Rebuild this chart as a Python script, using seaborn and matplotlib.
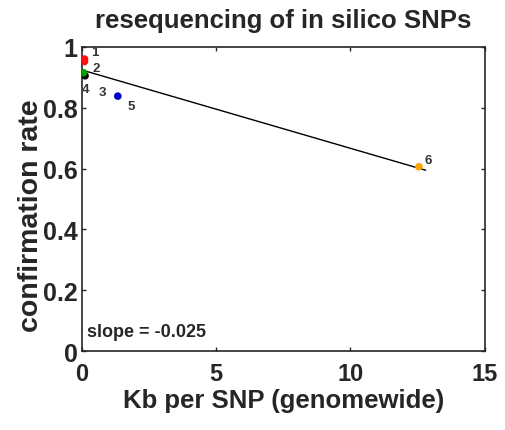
import numpy as np
import pandas as pd
import matplotlib
matplotlib.use("Agg")
import matplotlib.pyplot as plt
import seaborn as sns

# data
labels = ["1", "2", "3", "4", "5", "6"]
kb_per_snp = [0.10, 0.10, 0.12, 0.06, 1.34, 12.55]
conf_rate = [0.960, 0.952, 0.905, 0.915, 0.838, 0.606]
colors = ["#ff1010", "#ff1010", "#000000", "#00a000", "#0000c8", "#ffa500"]
line_x = [0.05, 12.8]
slope_text = "slope = -0.025"

df = pd.DataFrame({"x": kb_per_snp, "y": conf_rate, "lab": labels})

sns.set_style("ticks")
plt.rcParams["font.family"] = ["Liberation Sans", "DejaVu Sans"]
plt.rcParams["font.weight"] = "bold"

fig = plt.figure(figsize=(5.05, 4.31), dpi=100)
ax = fig.add_axes([0.162, 0.183, 0.798, 0.706])

# least squares fit line
slope, icpt = np.polyfit(kb_per_snp, conf_rate, 1)
fx = np.array(line_x)
sns.lineplot(x=fx, y=icpt + slope * fx, ax=ax, color="black", lw=1.0)

sns.scatterplot(data=df, x="x", y="y", hue="lab", palette=colors,
                legend=False, s=30, edgecolor="none", ax=ax, zorder=3)

# point labels (offsets in points)
offs = {"1": (5, 3), "2": (6, -7), "3": (10, -14), "4": (-1, -14), "5": (7, -9), "6": (4, 3)}
for lab, x, y in zip(labels, kb_per_snp, conf_rate):
    ax.annotate(lab, (x, y), xytext=offs[lab], textcoords="offset points",
                fontsize=9.5, color="#333333", fontweight="bold")

ax.text(0.012, 0.05, slope_text, transform=ax.transAxes,
        fontsize=13, fontweight="bold")

ax.set_xlim(0, 15)
ax.set_ylim(0, 1)
ax.set_xticks([0, 5, 10, 15])
ax.set_xticklabels(["0", "5", "10", "15"])
ax.set_yticks([0, 0.2, 0.4, 0.6, 0.8, 1])
ax.set_yticklabels(["0", "0.2", "0.4", "0.6", "0.8", "1"])
ax.tick_params(direction="in", length=3, width=1, top=True, right=True)
ax.tick_params(axis="x", labelsize=17, pad=8)
ax.tick_params(axis="y", labelsize=18, pad=3)
for sp in ax.spines.values():
    sp.set_linewidth(1.2)

ax.set_xlabel("Kb per SNP (genomewide)", fontsize=18.5, fontweight="bold", labelpad=2)
ax.set_ylabel("confirmation rate", fontsize=20.5, fontweight="bold")
ax.yaxis.set_label_coords(-0.095, 0.45)
ax.set_title("resequencing of in silico SNPs", fontsize=18.5, fontweight="bold", pad=14)

fig.savefig("out.png", dpi=100)
